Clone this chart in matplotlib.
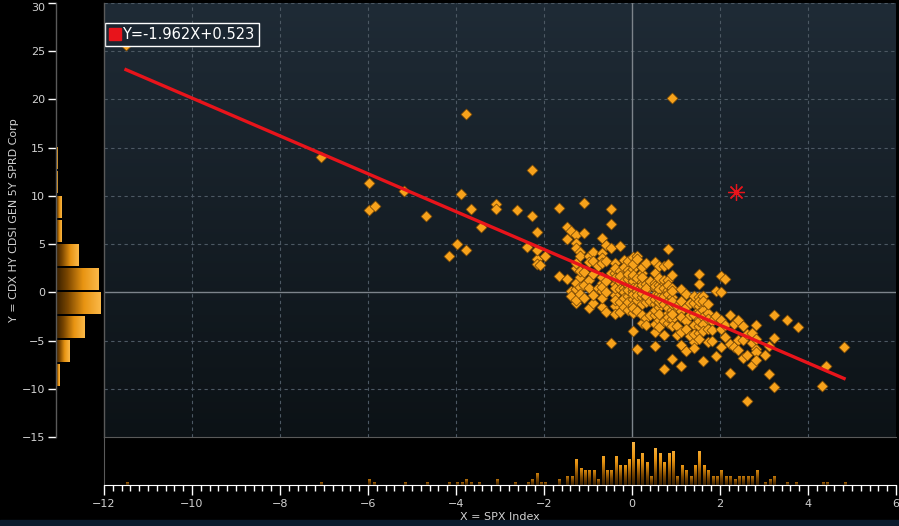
import numpy as np
import matplotlib
matplotlib.use("Agg")
from matplotlib import pyplot as plt
from matplotlib.colors import LinearSegmentedColormap
from matplotlib.lines import Line2D
from matplotlib.patches import Rectangle

# x positions (SPX daily move) and the Y values seen at each x
x_cols = [-11.5, -7.07, -5.98, -5.85, -5.18, -4.68, -4.15, -3.97, -3.89, -3.78,
          -3.67, -3.44, -3.1, -2.62, -2.38, -2.27, -2.16, -2.08, -1.97, -1.67,
          -1.48, -1.38, -1.28, -1.18, -1.08, -0.98, -0.88, -0.78, -0.68, -0.58,
          -0.48, -0.38, -0.28, -0.18, -0.08, 0.02, 0.12, 0.22, 0.32, 0.42,
          0.52, 0.62, 0.72, 0.82, 0.92, 1.02, 1.12, 1.22, 1.32, 1.42,
          1.52, 1.62, 1.72, 1.82, 1.92, 2.02, 2.12, 2.22, 2.32, 2.42,
          2.52, 2.62, 2.72, 2.82, 3.02, 3.12, 3.22, 3.52, 3.78, 4.32,
          4.42, 4.82]
y_cols = [
    [25.6], [14.0], [11.3, 8.5], [8.9], [10.5], [7.9], [3.8], [5.0], [10.2], [18.5, 4.4],
    [8.6], [6.8], [9.2, 8.6], [8.5], [4.7], [12.7, 7.9], [6.3, 3.5, 4.4, 2.9], [2.8], [3.8], [8.7, 1.7],
    [6.8, 1.4, 5.5], [6.4, 0.1, -0.4],
    [5.9, 5.1, -1.1, 0.3, 2.5, 3.0, 1.0, 4.6, -0.8],
    [4.2, 1.6, 3.8, 2.2, 0.6, -0.2],
    [9.3, 6.2, 0.8, -0.6, 2.1],
    [3.8, 1.3, -1.6, 0.4, 3.1],
    [4.2, 3.3, -1.1, 1.9, -0.3],
    [2.7, 0.5],
    [5.6, 4.1, 1.0, 0.1, -1.5, 3.6, 3.0, -0.6, 1.6, 0.6],
    [4.9, 3.3, -2.0, 1.2, 0.0],
    [8.6, 4.6, 7.1, 2.0, -5.3],
    [2.0, -1.4, 0.9, 1.5, -0.3, 3.0, -2.2, 0.4, 2.5, -0.8],
    [4.8, -2.0, 1.1, 0.3, -1.0, 2.2, 1.7],
    [3.4, 0.5, -1.5, 2.6, 0.0, -0.6, 1.2],
    [2.3, 0.8, -0.4, 1.4, -1.8, 3.2, 0.2, -1.0, 1.9],
    [3.7, 1.6, -4.0, -2.1, 0.9, 0.1, -0.7, 2.4, 1.2, -1.3, 0.5, 2.9, -0.2, 1.8, -1.6],
    [3.8, -5.9, 0.6, -0.8, 1.5, -1.9, 0.1, 3.5, -0.3],
    [-3.2, 1.1, -0.5, 0.3, 2.0, -1.2, 0.8, -2.4, 1.6, -0.1, 2.6],
    [0.9, -1.0, 0.2, -2.7, 3.0, -0.4, 0.5, -3.4],
    [-2.4, 1.2, -0.9],
    [3.1, -4.1, -2.4, 0.4, -1.2, 1.0, -0.3, -3.3, 0.7, -1.8, 2.0, -0.7, -5.6],
    [2.7, -1.5, -0.2, 0.8, -2.9, -1.0, 0.3, -3.6, -0.6, 1.5, -2.2],
    [2.7, -3.0, -8.0, 1.3, -1.2, -0.4, 0.4, -4.4],
    [4.5, 1.3, -0.9, -2.1, 0.2, -1.6, -3.2, 0.8, -0.2, -2.6, 2.9],
    [20.1, 1.8, 0.5, -6.9, -1.8, -0.5, -2.8, 0.1, -1.2, -3.5, -0.9, -2.2],
    [-3.5, -1.4, -4.4],
    [-4.1, -5.5, -7.6, 0.3, -1.9, -0.9, -2.6],
    [-0.2, -3.0, -1.5, -3.8, -6.1],
    [-1.1, -2.3, -4.5],
    [-5.1, -5.8, -1.1, -3.4, -0.4, -2.4, -4.3],
    [0.9, 1.9, -1.8, -4.2, -0.5, -2.8, -3.5, -1.4, -2.1, -4.8, -3.0, -0.9],
    [-7.1, -0.4, -1.8, -2.6, -3.3, -0.9, -4.0],
    [-2.1, -3.8, -1.2, -5.2, -2.8],
    [-5.0, -3.0, -3.9],
    [0.1, -2.5, -6.6],
    [1.7, 0.0, -2.9, -5.7, -3.8],
    [1.4, -3.4, -4.6],
    [-2.4, -8.4, -5.4],
    [-5.7, -3.3],
    [-2.9, -4.9, -6.0],
    [-4.9, -3.5, -6.8],
    [-4.3, -11.3, -6.5],
    [-7.5, -5.3, -4.2],
    [-3.4, -5.9, -6.2, -4.8, -7.0],
    [-6.5], [-8.5, -5.6], [-2.3, -4.7, -9.8], [-2.9], [-3.6], [-9.7], [-7.6], [-5.7],
]

# latest observation (red asterisk)
cur_x, cur_y = 2.36, 10.4

# regression shown in legend
slope, intercept = -1.962, 0.523

x_label = "X = SPX Index"
y_label = "Y = CDX HY CDSI GEN 5Y SPRD Corp"

xs = np.concatenate([[x] * len(ys) for x, ys in zip(x_cols, y_cols)])
ys = np.concatenate([np.array(v, dtype=float) for v in y_cols])

plt.rcParams['font.family'] = ['Liberation Sans Narrow', 'DejaVu Sans']
txt_col = '#d2d2d2'
orange = '#f7a21b'
bar_cmap = LinearSegmentedColormap.from_list('bb', ['#1a0e00', '#7a4600', '#e89412', '#fbb848'])

W, H = 899, 526
fig = plt.figure(figsize=(W / 100, H / 100), dpi=100, facecolor='black')

def fx(px):
    return px / W

def fy(py):
    return 1 - py / H

top, bot = 3, 437
ax = fig.add_axes([fx(104), fy(bot), fx(896 - 104), (bot - top) / H])
ax_l = fig.add_axes([fx(56), fy(bot), fx(104 - 56), (bot - top) / H])
ax_b = fig.add_axes([fx(104), fy(485), fx(896 - 104), (485 - bot) / H])

fig.patches.append(Rectangle((0, 0), 1, 6 / H, transform=fig.transFigure,
                             color='#0b1a2c', zorder=0))

# main plot background gradient
grad = np.linspace(0, 1, 256).reshape(-1, 1)
bg_cmap = LinearSegmentedColormap.from_list('bg', ['#0c1216', '#1f2b36'])
ax.imshow(grad, extent=[0, 1, 0, 1], transform=ax.transAxes, origin='lower',
          cmap=bg_cmap, aspect='auto', zorder=0)

for gx in range(-10, 6, 2):
    if gx != 0:
        ax.axvline(gx, color='#4c5863', lw=0.8, ls=(0, (3, 3)), zorder=1)
for gy in range(-10, 31, 5):
    if gy != 0:
        ax.axhline(gy, color='#4c5863', lw=0.8, ls=(0, (3, 3)), zorder=1)
ax.axvline(0, color='#7d848b', lw=1, zorder=1)
ax.axhline(0, color='#7d848b', lw=1, zorder=1)

ax.scatter(xs, ys, marker='D', s=32, facecolor=orange, edgecolor='#6b4006',
           linewidths=0.5, zorder=3)
lx = np.array([xs.min(), xs.max()])
ax.plot(lx, slope * lx + intercept, color='#e8141b', lw=2.4, zorder=4)
ax.plot([cur_x], [cur_y], marker=(8, 2, 0), markersize=12, color='#e8141b',
        mew=0.9, ls='none', zorder=5)

ax.set_xlim(-12, 6)
ax.set_ylim(-15, 30)
ax.set_xticks([])
ax.set_yticks([])
for s in ax.spines.values():
    s.set_visible(False)

leg = ax.legend(handles=[Line2D([], [], marker='s', color='#e8141b', ls='none', markersize=8)],
                labels=['Y=-1.962X+0.523'], loc='upper left', bbox_to_anchor=(0.001, 0.955),
                borderaxespad=0, handletextpad=0.1, handlelength=0.8, borderpad=0.3,
                fancybox=False, framealpha=1, facecolor='#1b2631',
                edgecolor='white', labelcolor='white',
                prop={'family': ['Liberation Sans Narrow', 'DejaVu Sans'], 'size': 10.5})
leg.get_frame().set_linewidth(1.0)
leg.set_zorder(6)

def grad_bar(a, x0, x1, y0, y1, lo, hi, horizontal):
    g = np.linspace(lo, hi, 64)
    g = g.reshape(1, -1) if horizontal else g.reshape(-1, 1)
    a.imshow(g, extent=[x0, x1, y0, y1], origin='lower', cmap=bar_cmap, vmin=0, vmax=1,
             aspect='auto', interpolation='bilinear', zorder=2)

# left marginal histogram of Y
y_edges = np.arange(-15, 30.01, 2.5)
y_counts, _ = np.histogram(ys, bins=y_edges)
for c, e in zip(y_counts, y_edges[:-1]):
    if c > 0:
        grad_bar(ax_l, 0, max(c, 0.7), e + 0.25, e + 2.5, 0.1, 1.0, True)
ax_l.set_facecolor('black')
ax_l.set_xlim(0, 88)
ax_l.set_ylim(-15, 30)
ax_l.set_xticks([])
ax_l.set_yticks(np.arange(-15, 31, 5))
ax_l.tick_params(axis='y', colors='white', labelcolor=txt_col, labelsize=8, length=6,
                 width=1, pad=2, direction='out')
ax_l.get_yticklabels()[-1].set_verticalalignment('top')
for k, s in ax_l.spines.items():
    s.set_color('#5a5a5a')
    s.set_linewidth(1)
ax_l.spines['bottom'].set_visible(False)
ax_l.spines['top'].set_visible(False)

# bottom marginal histogram of X
x_edges = np.arange(-12, 6.001, 0.1)
x_counts, _ = np.histogram(xs, bins=x_edges)
cmax = 16.0
for c, e in zip(x_counts, x_edges[:-1]):
    if c > 0:
        grad_bar(ax_b, e + 0.01, e + 0.06, 0, c, 0.1, 0.45 + 0.55 * c / cmax, False)
ax_b.set_facecolor('black')
ax_b.set_xlim(-12, 6)
ax_b.set_ylim(0, 17)
ax_b.set_yticks([])
ax_b.set_xticks(np.arange(-12, 6.1, 2))
ax_b.set_xticks(np.arange(-12, 6.01, 0.2), minor=True)
ax_b.tick_params(axis='x', which='major', colors='white', labelcolor=txt_col, labelsize=8,
                 length=7, width=1, pad=3)
ax_b.tick_params(axis='x', which='minor', colors='white', length=4, width=1)
for k, s in ax_b.spines.items():
    s.set_color('#5a5a5a')
ax_b.spines['bottom'].set_color('white')
ax_b.spines['right'].set_visible(False)

fig.text(fx(500), fy(517), x_label, color=txt_col, fontsize=8, ha='center', va='center')
fig.text(fx(14), fy(220), y_label, color=txt_col, fontsize=8, ha='center', va='center',
         rotation=90)

fig.savefig('out.png', dpi=100, facecolor='black')
